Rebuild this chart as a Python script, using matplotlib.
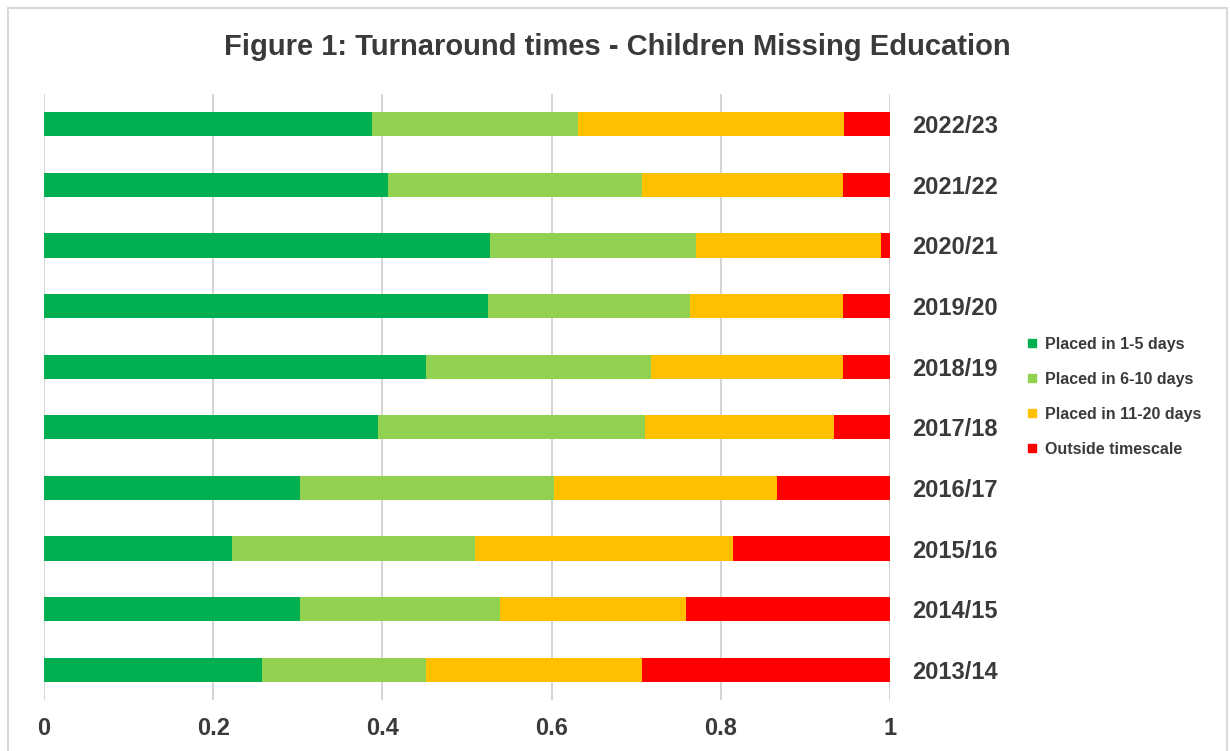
import matplotlib
matplotlib.use("Agg")
import matplotlib.pyplot as plt
from matplotlib.patches import Rectangle
from matplotlib.lines import Line2D
import numpy as np

years = ["2013/14", "2014/15", "2015/16", "2016/17", "2017/18",
         "2018/19", "2019/20", "2020/21", "2021/22", "2022/23"]
placed_1_5 = [0.258, 0.303, 0.222, 0.303, 0.395, 0.451, 0.525, 0.527, 0.407, 0.388]
placed_6_10 = [0.193, 0.236, 0.288, 0.300, 0.315, 0.266, 0.239, 0.244, 0.300, 0.243]
placed_11_20 = [0.256, 0.220, 0.304, 0.263, 0.224, 0.227, 0.180, 0.218, 0.237, 0.315]
outside = [0.293, 0.241, 0.186, 0.134, 0.066, 0.056, 0.056, 0.011, 0.056, 0.054]
series_names = ["Placed in 1-5 days", "Placed in 6-10 days",
                "Placed in 11-20 days", "Outside timescale"]
colors = ["#00B050", "#92D050", "#FFC000", "#FF0000"]
xticks = [0, 0.2, 0.4, 0.6, 0.8, 1]
xtick_labels = ["0", "0.2", "0.4", "0.6", "0.8", "1"]
title = "Figure 1: Turnaround times - Children Missing Education"

plt.rcParams['font.family'] = ['Liberation Sans', 'DejaVu Sans']
text_color = "#3a3a3a"

W, H = 1230, 751
fig = plt.figure(figsize=(W / 100, H / 100), dpi=100)
ax = fig.add_axes([44 / W, 1 - 700 / H, (890 - 44) / W, (700 - 94) / H])

y = np.arange(len(years))
left = np.zeros(len(years))
for vals, c, name in zip([placed_1_5, placed_6_10, placed_11_20, outside], colors, series_names):
    ax.barh(y, vals, left=left, height=0.4, color=c, label=name, zorder=3)
    left = left + np.array(vals)

ax.set_xlim(0, 1)
ax.set_ylim(-0.5, len(years) - 0.5)
ax.set_xticks(xticks)
ax.set_xticklabels(xtick_labels)
ax.set_yticks(y)
ax.set_yticklabels(years)
ax.yaxis.tick_right()
ax.tick_params(axis='y', length=0, pad=16, labelsize=17, labelcolor=text_color)
ax.tick_params(axis='x', length=0, pad=12, labelsize=17, labelcolor=text_color)
for lab in ax.get_xticklabels() + ax.get_yticklabels():
    lab.set_fontweight('bold')
for s in ax.spines.values():
    s.set_visible(False)
ax.grid(axis='x', color="#d4d4d4", linewidth=1.4, zorder=0)
ax.grid(axis='y', visible=False)

fig.text(617 / W, 1 - 55 / H, title, ha='center', va='baseline',
         fontsize=21, fontweight='bold', color=text_color)

handles = [Line2D([0], [0], marker='s', linestyle='none', markersize=6,
                  markerfacecolor=c, markeredgecolor=c) for c in colors]
leg = fig.legend(handles, series_names, loc='upper left',
                 bbox_to_anchor=(1026 / W, 1 - 337 / H), frameon=False,
                 prop={'size': 11.5, 'weight': 'bold'}, labelcolor=text_color,
                 handlelength=0.8, handletextpad=0.4, labelspacing=1.25,
                 borderaxespad=0, borderpad=0)

fig.patches.append(Rectangle((8 / W, -0.02), (1227 - 8) / W, 1 - 8 / H + 0.02,
                             transform=fig.transFigure, fill=False,
                             edgecolor="#d9d9d9", linewidth=1.5, zorder=0))

fig.savefig("out.png", dpi=100, facecolor="white")
